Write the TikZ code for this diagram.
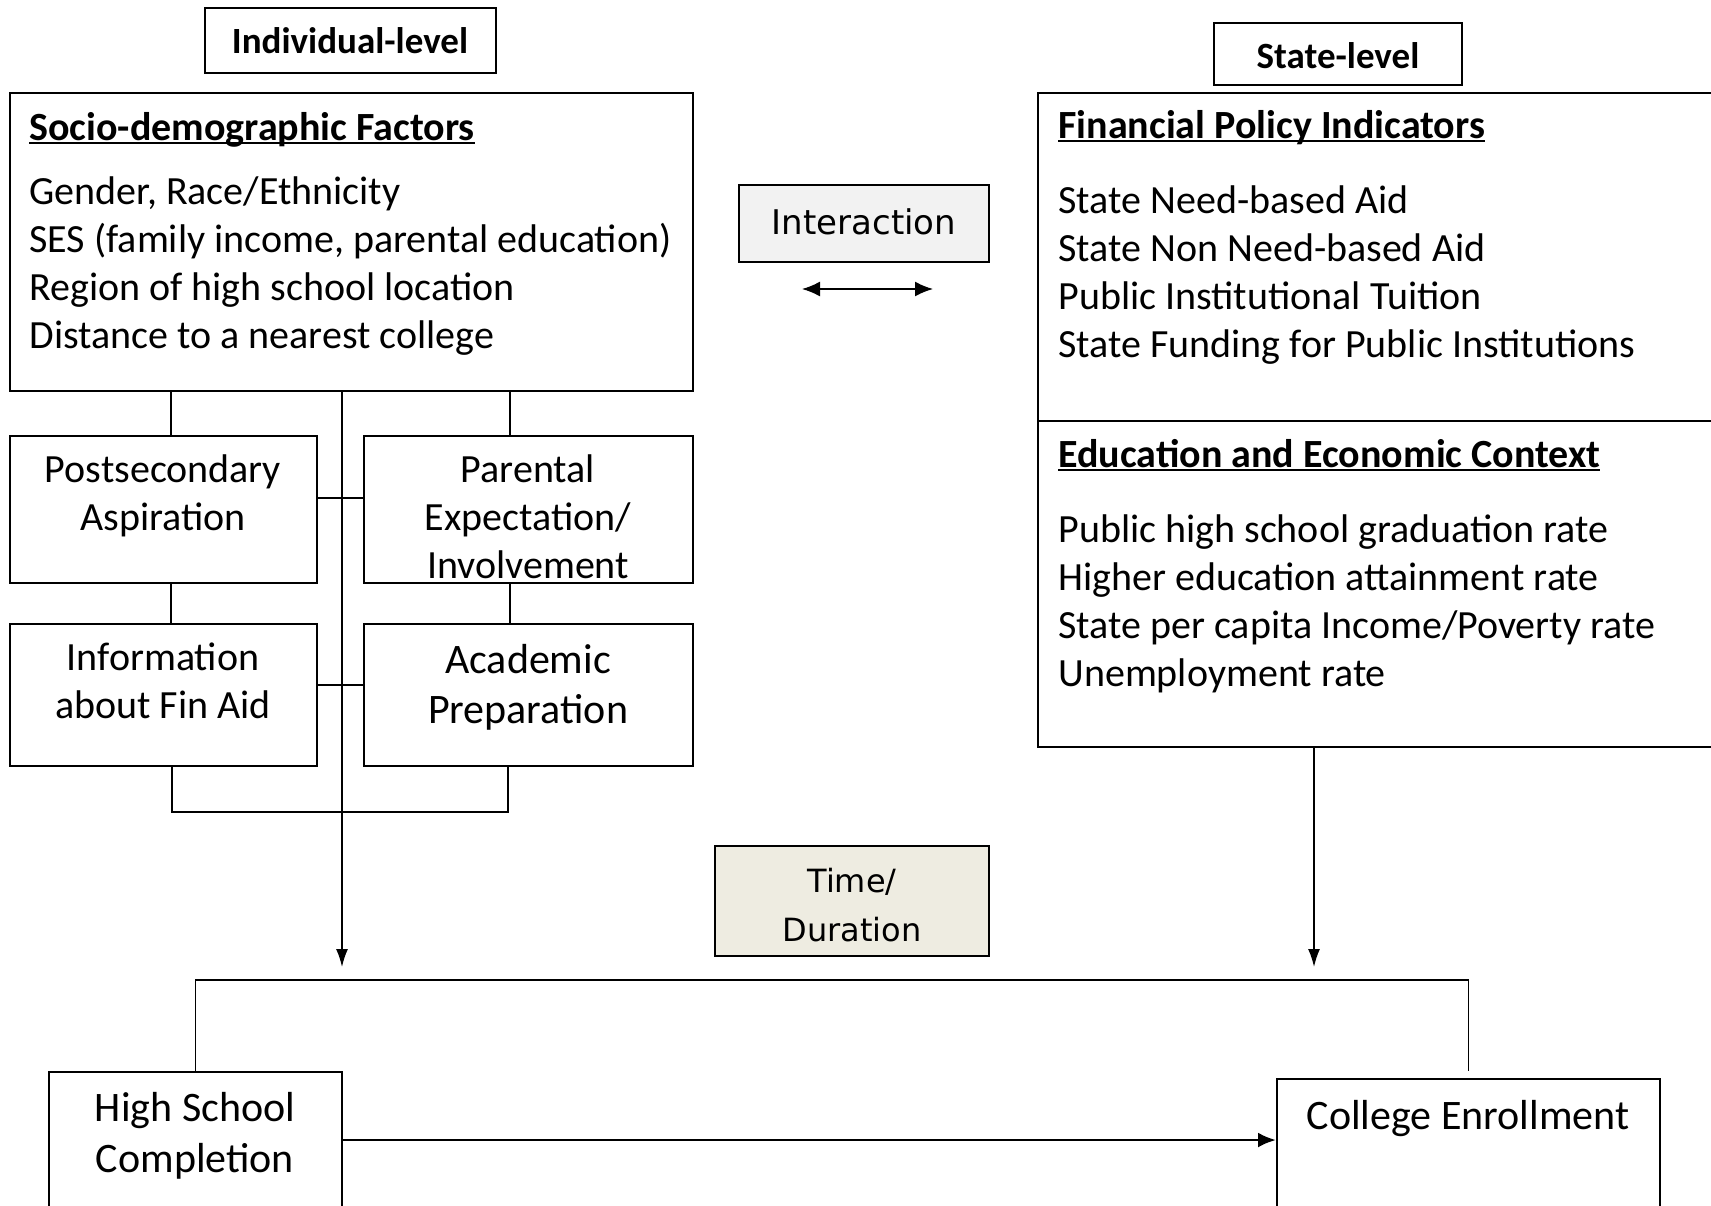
\documentclass[tikz,border=0pt]{standalone}
\usepackage{fontspec}
\setmainfont{Carlito}
\newfontfamily\verdfont{DejaVu Sans}
\usetikzlibrary{arrows.meta,fit,calc}
\definecolor{greybg}{HTML}{F2F2F2}
\definecolor{tanbg}{HTML}{EEECE1}
\newcommand\ulhead[1]{\setbox0\hbox{#1}\rlap{\rule[-2.2pt]{\wd0}{1.3pt}}\box0}

\begin{document}
\begin{tikzpicture}[x=0.5pt,y=-0.5pt,
    box/.style={draw,line width=1pt,inner sep=0pt},
    link/.style={line width=0.8pt},
    body/.style={align=left,anchor=base west,inner sep=0pt,font=\fontsize{20}{24}\selectfont},
    hdr/.style={anchor=base west,inner sep=0pt,font=\fontsize{20}{24}\selectfont\bfseries},
    tag/.style={anchor=base,inner sep=0pt,font=\fontsize{18.5}{22}\selectfont\bfseries},
    mid/.style={align=center,anchor=base,inner sep=0pt,font=\fontsize{20}{24}\selectfont},
    tip/.style={-{Latex[length=9pt,width=6pt]}}]

    \useasboundingbox (0,0) rectangle (1711,1205);
    \clip (0,0) rectangle (1711,1205);

    % level tags
    \node[box,fit={(205,8) (496,73)}] (indiv) {};
    \node[tag] (indivtxt) at (350,53) {Individual-level};
    \node[box,fit={(1214,23) (1462,85)}] (state) {};
    \node[tag] (statetxt) at (1338,68) {State-level};

    % individual-level factors (multi-line texts sit on their last baseline)
    \node[box,fit={(10,93) (693,391)}] (socio) {};
    \node[hdr] (sociohd) at (29,140) {\ulhead{Socio-demographic Factors}};
    \node[body] (sociotxt) at (29,348) {Gender, Race/Ethnicity\\SES (family income, parental education)\\Region of high school location\\Distance to a nearest college};

    \node[box,fit={(10,436) (317,583)}] (post) {};
    \node[mid] (posttxt) at (163,530) {Postsecondary\\Aspiration};
    \node[box,fit={(364,436) (693,583)}] (par) {};
    \node[mid] (partxt) at (528,578) {Parental\\Expectation/\\Involvement};
    \node[box,fit={(10,624) (317,766)}] (info) {};
    \node[mid] (infotxt) at (163,718) {Information\\about Fin Aid};
    \node[box,fit={(364,624) (693,766)}] (acad) {};
    \node[mid,font=\fontsize{21}{25}\selectfont] (acadtxt) at (528,723) {Academic\\Preparation};

    % state-level factors
    \node[box,fit={(1038,93) (1725,747)}] (stbox) {};
    \draw[line width=1pt] (stbox.west |- 0,421) -- (stbox.east |- 0,421);
    \node[hdr] (finhd) at (1058,138) {\ulhead{Financial Policy Indicators}};
    \node[body] (fintxt) at (1058,357) {State Need-based Aid\\State Non Need-based Aid\\Public Institutional Tuition\\State Funding for Public Institutions};
    \node[hdr] (eduhd) at (1058,467) {\ulhead{Education and Economic Context}};
    \node[body] (edutxt) at (1058,686) {Public high school graduation rate\\Higher education attainment rate\\State per capita Income/Poverty rate\\Unemployment rate};

    % middle column
    \node[box,fill=greybg,fit={(739,185) (989,262)}] (inter) {};
    \node[inner sep=0pt,font=\verdfont\fontsize{17}{20}\selectfont] (intertxt) at ($(inter.center)+(0,-2)$) {Interaction};
    \coordinate (ia) at (802,289);
    \coordinate (ib) at (933,289);
    \draw[link,{Latex[length=9pt,width=7.5pt]}-{Latex[length=9pt,width=7.5pt]}] (ia) -- (ib);

    \node[box,fill=tanbg,fit={(715,846) (989,956)}] (time) {};
    \node[align=center,anchor=base,inner sep=0pt,font=\verdfont\fontsize{16}{24.5}\selectfont] (timetxt) at (852,941) {Time/\\Duration};

    % links between individual factors
    \coordinate (lc) at (171,0);
    \coordinate (rc) at (510,0);
    \draw[link] (socio.south -| lc) -- (post.north -| lc);
    \draw[link] (post.south -| lc) -- (info.north -| lc);
    \draw[link] (socio.south -| rc) -- (par.north -| rc);
    \draw[link] (par.south -| rc) -- (acad.north -| rc);
    \draw[link] (post.east |- 0,498) -- (par.west |- 0,498);
    \draw[link] (info.east |- 0,685) -- (acad.west |- 0,685);
    \coordinate (bl) at (172,812);
    \coordinate (br) at (508,812);
    \draw[link] (info.south -| bl) -- (bl) -- (br) -- (acad.south -| br);

    % arrows down to outcomes
    \coordinate (ldown) at (342,967);
    \coordinate (rdown) at (1314,967);
    \draw[link,tip] (socio.south -| ldown) -- (ldown);
    \draw[link,tip] (stbox.south -| rdown) -- (rdown);

    % outcomes
    \node[box,fit={(49,1072) (342,1230)}] (hs) {};
    \node[mid,font=\fontsize{21}{25.5}\selectfont] (hstxt) at (195,1172) {High School\\Completion};
    \node[box,fit={(1277,1079) (1660,1230)}] (col) {};
    \node[mid,font=\fontsize{21}{25.5}\selectfont] (coltxt) at (1468,1129) {College Enrollment};

    \coordinate (brk) at (0,980);
    \draw[link] (hs.north) -- (hs.north |- brk) -- (col.north |- brk) -- ($(col.north)+(0,-7)$);
    \draw[line width=1.4pt,-{Latex[length=9pt,width=7.5pt]}] (hs.east |- 0,1140) -- (col.west |- 0,1140);
\end{tikzpicture}
\end{document}
